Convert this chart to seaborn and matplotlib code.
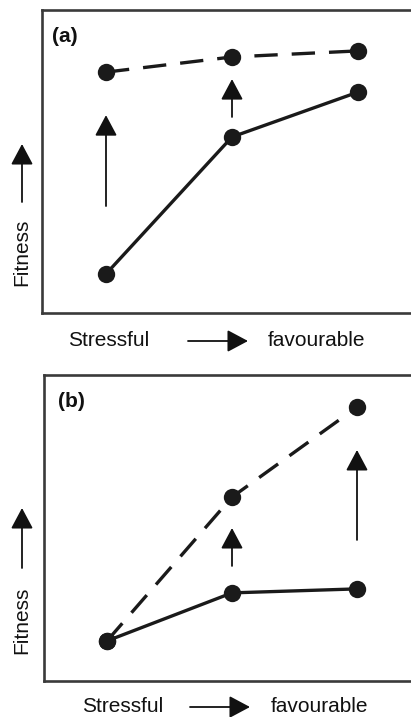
import numpy as np
import pandas as pd
import matplotlib
matplotlib.use("Agg")
import matplotlib.pyplot as plt
import seaborn as sns

# --- DATA ---
environment = [1, 2, 3]  # stressful -> favourable

# panel (a)
a_solid = [1.29, 5.81, 7.29]
a_dashed = [7.95, 8.45, 8.65]
a_arrow_x = [1, 2]
a_arrow_from = [3.53, 6.47]
a_arrow_to = [6.53, 7.72]

# panel (b)
b_solid = [1.31, 2.88, 3.01]
b_dashed = [1.31, 6.01, 8.95]
b_arrow_x = [2, 3]
b_arrow_from = [3.76, 4.61]
b_arrow_to = [5.00, 7.55]

panel_labels = ["(a)", "(b)"]

# --- Styling ---
sns.set_theme(style="white")
plt.rcParams["font.family"] = ["Liberation Sans", "DejaVu Sans"]

W, H = 411, 717
fig = plt.figure(figsize=(W / 100, H / 100), dpi=100)

arrow_kw = dict(
    arrowstyle="-|>,head_length=0.75,head_width=0.4",
    mutation_scale=17,
    lw=1.3,
    color="#111111",
    shrinkA=0,
    shrinkB=0,
)


def fpx(x, y):
    return (x / W, 1 - y / H)


def draw_panel(rect, solid, dashed, arr_x, arr_from, arr_to, label, xlim, label_off):
    ax = fig.add_axes(rect)
    df = pd.DataFrame(
        {
            "env": environment * 2,
            "fitness": solid + dashed,
            "line": ["solid"] * 3 + ["dashed"] * 3,
        }
    )
    sns.lineplot(
        data=df,
        x="env",
        y="fitness",
        style="line",
        dashes={"solid": "", "dashed": (7.0, 4.2)},
        markers={"solid": "o", "dashed": "o"},
        color="#1a1a1a",
        linewidth=2.4,
        markersize=12.5,
        markeredgewidth=0,
        legend=False,
        ax=ax,
    )
    for x, y0, y1 in zip(arr_x, arr_from, arr_to):
        ax.annotate("", xy=(x, y1), xytext=(x, y0), arrowprops=arrow_kw)
    ax.set_xlim(*xlim)
    ax.set_ylim(0, 10)
    ax.set_xticks([])
    ax.set_yticks([])
    ax.set_xlabel("")
    ax.set_ylabel("")
    for sp in ax.spines.values():
        sp.set_color("#3a3a3a")
        sp.set_linewidth(1.9)
    ax.text(
        label_off,
        0.945,
        label,
        transform=ax.transAxes,
        fontsize=15,
        fontweight="bold",
        va="top",
        ha="left",
        color="#111111",
    )
    return ax


# axes rects (right edge runs off the image like the reference)
ax_a = draw_panel(
    [42 / W, (H - 313) / H, 372 / W, 303 / H],
    a_solid, a_dashed, a_arrow_x, a_arrow_from, a_arrow_to,
    panel_labels[0], (1 - 64 / 126, 3 + 56 / 126), 0.027,
)
ax_b = draw_panel(
    [44 / W, (H - 681) / H, 370 / W, 306 / H],
    b_solid, b_dashed, b_arrow_x, b_arrow_from, b_arrow_to,
    panel_labels[1], (1 - 63 / 125, 3 + 57 / 125), 0.038,
)

# axis labels drawn as text + arrows
for fit_y, arr_y0, arr_y1, xl_y, s_x, a_x0, a_x1, f_x in [
    (252, 202, 144, 341, 109, 188, 248, 317),
    (620, 568, 508, 707, 123, 190, 250, 319),
]:
    fig.text(*fpx(22, fit_y), "Fitness", rotation=90, fontsize=15,
             ha="center", va="center", color="#111111")
    fig.add_artist(matplotlib.patches.FancyArrowPatch(
        fpx(22, arr_y0), fpx(22, arr_y1), transform=fig.transFigure, **arrow_kw))
    fig.text(*fpx(s_x, xl_y), "Stressful", fontsize=15,
             ha="center", va="center", color="#111111")
    fig.add_artist(matplotlib.patches.FancyArrowPatch(
        fpx(a_x0, xl_y), fpx(a_x1, xl_y), transform=fig.transFigure, **arrow_kw))
    fig.text(*fpx(f_x, xl_y), "favourable", fontsize=15,
             ha="center", va="center", color="#111111")

fig.savefig("out.png", dpi=100)
